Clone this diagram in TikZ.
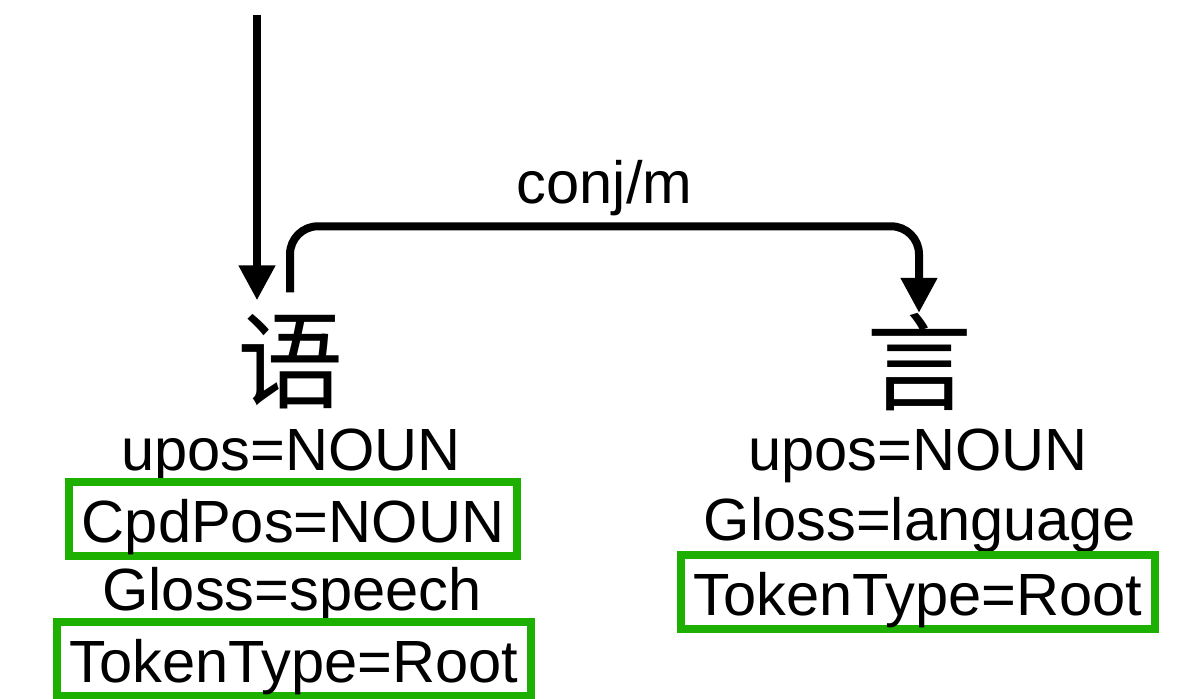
\documentclass[tikz,border=0pt]{standalone}
\usepackage{fontspec}
\setmainfont{Liberation Sans}
\newfontfamily\cjk{Noto Sans CJK SC}
\usetikzlibrary{arrows.meta}
\definecolor{featgreen}{RGB}{30,176,0}
\def\feat{\fontsize{29.8}{36}\selectfont}
\tikzset{
  dep/.style={line width=4pt, -{Triangle[length=17.5pt,width=17.5pt]}},
  word/.style={font=\cjk\fontsize{53}{60}\selectfont, inner sep=0pt},
  attr/.style={font=\feat, anchor=base, inner sep=0pt},
  keyattr/.style={attr, draw=featgreen, line width=4pt, inner xsep=6.5pt,
    inner ysep=2pt, text height=28pt, text depth=5pt},
}

\begin{document}
\begin{tikzpicture}[x=0.5pt,y=-0.5pt]
  \useasboundingbox (0,0) rectangle (1189,698);
  \node[word] (yu)  at (290,362) {语};
  \node[word] (yan) at (919,362) {言};
  % features under each word
  \node[attr]    (yu-upos)  at (291,470) {upos=NOUN};
  \node[keyattr] (yu-cpd)   at (293,542) {CpdPos=NOUN};
  \node[attr]    (yu-gloss) at (292,610) {Gloss=speech};
  \node[keyattr] (yu-type)  at (294,682) {TokenType=Root};
  \node[attr]    (yan-upos)  at (918,470) {upos=NOUN};
  \node[attr]    (yan-gloss) at (920,540) {Gloss=language};
  \node[keyattr] (yan-type)  at (918,615) {TokenType=Root};
  % arcs
  \coordinate (root) at (257,15);
  \draw[dep] (root) -- ([yshift=7pt]root |- yu.north);
  \draw[dep, rounded corners=14pt] ([yshift=11pt]yu.north) -- ++(0,-66)
    -| node[pos=0.25, above=0pt, font=\feat] (conj) {conj/m} (yan.north);
\end{tikzpicture}
\end{document}
